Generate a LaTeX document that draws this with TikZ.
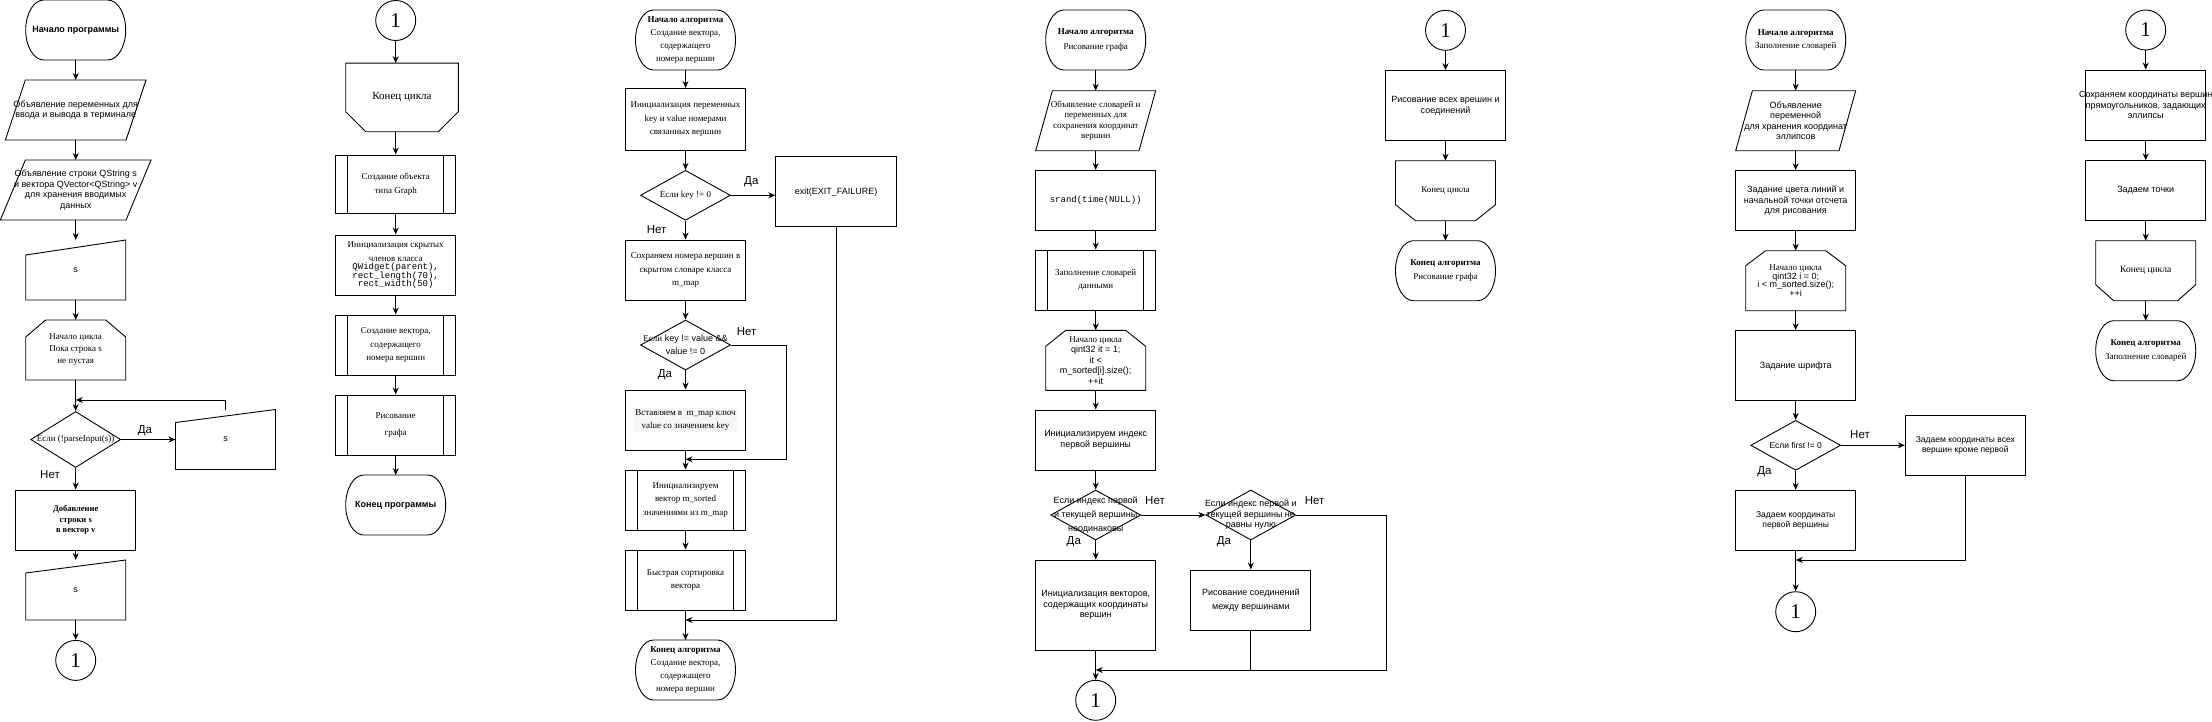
\documentclass[tikz,border=0pt]{standalone}
\usepackage{fontspec}
\setmainfont{Liberation Sans}
\newfontfamily\tnr{Liberation Serif}
\newfontfamily\cour{Liberation Mono}
\usetikzlibrary{shapes,arrows.meta}
% outline of a terminator round a node
\newcommand{\drawterm}[1]{\draw[line width=0.9pt] ([xshift=18pt]#1.north west) -- ([xshift=-18pt]#1.north east)
    arc[start angle=90, end angle=-90, x radius=18pt, y radius=30pt] -- ([xshift=18pt]#1.south west)
    arc[start angle=270, end angle=90, x radius=18pt, y radius=30pt] -- cycle;}

\begin{document}
\begin{tikzpicture}[x=1pt, y=-1pt,
    every node/.style={line width=0.9pt},
    ln/.style={line width=0.9pt},
    arr/.style={ln, -{Stealth[length=7pt,width=6pt]}},
    ss/.style={font=\fontsize{9}{10.5}\selectfont},
    rm/.style={font=\tnr\fontsize{9}{13.5}\selectfont},
    free/.style={align=center, minimum width=100pt, minimum height=60pt, inner sep=1pt, outer sep=0pt},
    term/.style={free},
    proc/.style={draw, align=center, minimum width=120pt, minimum height=60pt, inner sep=1pt},
    sub/.style={proc, path picture={
        \draw[ln] ([xshift=12pt]path picture bounding box.north west) -- ([xshift=12pt]path picture bounding box.south west)
                  ([xshift=-12pt]path picture bounding box.north east) -- ([xshift=-12pt]path picture bounding box.south east);}},
    cond/.style={draw, diamond, minimum width=90pt, minimum height=50pt, inner sep=0pt},
    conn/.style={draw, circle, minimum size=40pt, inner sep=0pt, font=\tnr\fontsize{21}{21}\selectfont},
    lab/.style={font=\fontsize{11.5}{12}\selectfont}]
    \useasboundingbox (0,0) rectangle (2212,721);

    % column 1: main program
    \node[term, font=\bfseries\fontsize{9}{10.5}\selectfont] (st1) at (75.7,30) {Начало программы};
    \drawterm{st1}
    \node[free, ss, minimum width=140.7pt] (d1) at (75.7,110) {Объявление переменных для\\ввода и вывода в терминале};
    \draw[ln] (d1.south west) -- ([xshift=20pt]d1.north west) -- (d1.north east) -- ([xshift=-20pt]d1.south east) -- cycle;
    \node[free, ss, minimum width=150.7pt] (d2) at (75.7,190) {Объявление строки QString s\\и вектора QVector<QString> v\\для хранения вводимых\\данных};
    \draw[ln] (d2.south west) -- ([xshift=25pt]d2.north west) -- (d2.north east) -- ([xshift=-25pt]d2.south east) -- cycle;
    \node[free, ss] (s1) at (75.7,270) {s};
    \draw[ln] (s1.south west) -- ([yshift=-15pt]s1.north west) -- (s1.north east) -- (s1.south east) -- cycle;
    \node[free, font=\tnr\fontsize{9}{12}\selectfont] (L1) at (75.7,350) {Начало цикла\\Пока строка s\\не пустая};
    \draw[ln] (L1.south west) -- ([yshift=-17pt]L1.north west) -- ([xshift=20pt]L1.north west) -- ([xshift=-20pt]L1.north east) -- ([yshift=-17pt]L1.north east) -- (L1.south east) -- cycle;
    \node[cond, minimum height=56pt] (c1) at (75.7,439.5) {};
    \node[rm] (c1t) at (c1) {Если (!parseInput(s))};
    \node[free, ss] (s2) at (225.5,439.5) {s};
    \draw[ln] (s2.south west) -- ([yshift=-13pt]s2.north west) -- (s2.north east) -- (s2.south east) -- cycle;
    \node[proc, font=\tnr\bfseries\fontsize{8.5}{10.5}\selectfont] (p1) at (75.7,520) {Добавление\\строки s\\в вектор v};
    \node[free, ss] (s3) at (75.7,590) {s};
    \draw[ln] (s3.south west) -- ([yshift=-13pt]s3.north west) -- (s3.north east) -- (s3.south east) -- cycle;
    \node[conn] (k1) at (75.7,660.4) {1};
    \node[lab] (y1) at (145,431) {Да};
    \node[lab] (n1) at (50,475) {Нет};
    \coordinate (j1) at (75.7,400);
    \draw[arr] (st1) -- (d1);
    \draw[arr] (d1) -- (d2);
    \draw[arr] (d2) -- (s1);
    \draw[arr] (s1) -- (L1);
    \draw[arr] (L1) -- (c1);
    \draw[arr] (c1) -- (s2);
    \draw[arr] (s2.north) |- (j1);
    \draw[arr] (c1) -- (p1);
    \draw[arr] (p1) -- (s3);
    \draw[arr] (s3) -- (k1);

    % column 2: end of main loop
    \node[conn] (k2) at (395.7,20.5) {1};
    \node[free, font=\tnr\fontsize{11}{12}\selectfont, minimum width=112.6pt, minimum height=68.7pt] (e1) at (402,97.4) {Конец цикла};
    \draw[ln] (e1.north west) -- (e1.north east) -- ([yshift=20pt]e1.south east) -- ([xshift=-20pt]e1.south east) -- ([xshift=20pt]e1.south west) -- ([yshift=20pt]e1.south west) -- cycle;
    \node[sub, rm, minimum height=58pt] (sp1) at (395.7,184) {Создание объекта\\типа Graph};
    \node[proc, font=\fontsize{9}{10}\selectfont] (p2) at (395.7,265) {\tnr Инициализация скрытых\\[4pt]\tnr членов класса\\[-1.5pt]\cour QWidget(parent),\\[-1.5pt]\cour rect\_length(70),\\[-1.5pt]\cour rect\_width(50)};
    \node[sub, rm] (sp2) at (395.7,345) {Создание вектора,\\содержащего\\номера вершин};
    \node[sub, rm] (sp3) at (395.7,425) {Рисование\\[4pt]графа};
    \node[term, font=\bfseries\fontsize{9}{10.5}\selectfont] (end2) at (395.7,505) {Конец программы};
    \drawterm{end2}
    \draw[arr] (k2) -- (k2 |- e1.north);
    \draw[arr] (e1.south -| sp1.north) -- (sp1.north);
    \draw[arr] (sp1) -- (p2);
    \draw[arr] (p2) -- (sp2);
    \draw[arr] (sp2) -- (sp3);
    \draw[arr] (sp3) -- (end2);

    % column 3: vector of vertices
    \node[term, font=\tnr\fontsize{9}{13.3}\selectfont] (st3) at (685.5,40) {\textbf{Начало алгоритма}\\Создание вектора,\\содержащего\\номера вершин};
    \drawterm{st3}
    \node[proc, rm, minimum height=62pt] (p3) at (685.5,119.5) {Инициализация переменных\\key и value номерами\\связанных вершин};
    \node[cond] (c3) at (685.5,195.3) {};
    \node[rm] (c3t) at (c3) {Если key != 0};
    \node[proc, ss, minimum width=121pt, minimum height=70pt] (x3) at (836.2,191.7) {exit(EXIT\_FAILURE)};
    \node[proc, rm] (p4) at (685.5,270) {Сохраняем номера вершин в\\скрытом словаре класса\\m\_map};
    \node[cond] (c4) at (685.5,345) {};
    \node[ss, align=center] (c4t) at (c4) {{\tnr Если} key != value \&\&\\[3pt]value != 0};
    \node[proc] (p5) at (685.5,420) {};
    \node[rm, align=center, fill=black!3, inner sep=1pt] (p5t) at (p5) {Вставляем в~ m\_map ключ\\value со значением key};
    \node[sub, rm] (sp4) at (685.5,500) {Инициализируем\\вектор m\_sorted\\значениями из m\_map};
    \node[sub, rm] (sp5) at (685.5,580) {Быстрая сортировка\\вектора};
    \node[term, font=\tnr\fontsize{9}{13.3}\selectfont] (end3) at (685.5,670) {\textbf{Конец алгоритма}\\Создание вектора,\\содержащего\\номера вершин};
    \drawterm{end3}
    \node[lab] (y3) at (751.3,182) {Да};
    \node[lab] (n3) at (656.7,229.5) {Нет};
    \node[lab] (n4) at (746.7,332) {Нет};
    \node[lab] (y4) at (665,375) {Да};
    \coordinate (j2) at (685.5,459.3);
    \coordinate (j3) at (685.5,620);
    \draw[arr] (st3) -- (p3);
    \draw[arr] (p3) -- (c3);
    \draw[arr] (c3.east) -- (c3.east -| x3.west);
    \draw[arr] (x3.south) |- (j3);
    \draw[arr] (c3) -- (p4);
    \draw[arr] (p4) -- (c4);
    \draw[arr] (c4.east) -- ++(55.7,0) |- (j2);
    \draw[arr] (c4) -- (p5);
    \draw[arr] (p5) -- (sp4);
    \draw[arr] (sp4) -- (sp5);
    \draw[arr] (sp5) -- (end3);

    % column 4: drawing the graph
    \node[term, font=\tnr\fontsize{9}{15}\selectfont] (st4) at (1095.7,40) {\textbf{Начало алгоритма}\\Рисование графа};
    \drawterm{st4}
    \node[free, minimum width=120pt, font=\tnr\fontsize{9}{10.5}\selectfont] (d4) at (1095.7,120.7) {Объявление словарей и\\переменных для\\сохранения координат\\вершин};
    \draw[ln] (d4.south west) -- ([xshift=16.7pt]d4.north west) -- (d4.north east) -- ([xshift=-16.7pt]d4.south east) -- cycle;
    \node[proc, font=\cour\fontsize{9}{10}\selectfont] (p6) at (1095.7,200.3) {srand(time(NULL))};
    \node[sub, rm] (sp6) at (1095.7,280) {Заполнение словарей\\данными};
    \node[free, ss] (L4) at (1095.7,360.3) {\tnr Начало цикла\\qint32 it = 1;\\it <\\m\_sorted[i].size();\\++it};
    \draw[ln] (L4.south west) -- ([yshift=-16pt]L4.north west) -- ([xshift=20pt]L4.north west) -- ([xshift=-20pt]L4.north east) -- ([yshift=-16pt]L4.north east) -- (L4.south east) -- cycle;
    \node[proc, ss] (p7) at (1095.7,440) {Инициализируем индекс\\первой вершины};
    \node[cond] (c5) at (1095.7,515) {};
    \node[align=center, font=\fontsize{9}{14}\selectfont] (c5t) at (c5) {Если индекс первой\\и текущей вершины\\неодинаковы};
    \node[cond] (c6) at (1250.8,515) {};
    \node[align=center, font=\fontsize{9}{10.5}\selectfont] (c6t) at (c6) {Если индекс первой и\\текущей вершины не\\равны нулю};
    \node[proc, ss, minimum height=90pt] (p8) at (1095.7,605) {Инициализация векторов,\\содержащих координаты\\вершин};
    \node[proc, font=\fontsize{9}{14.3}\selectfont] (p9) at (1250.8,600) {Рисование соединений\\между вершинами};
    \node[conn] (k4) at (1095.7,700.3) {1};
    \node[lab] (n5) at (1155,501) {Нет};
    \node[lab] (y5) at (1073.8,541.7) {Да};
    \node[lab] (n6) at (1314.7,501) {Нет};
    \node[lab] (y6) at (1224,541.7) {Да};
    \coordinate (j4) at (1095.7,670);
    \draw[arr] (st4) -- (d4);
    \draw[arr] (d4) -- (p6);
    \draw[arr] (p6) -- (sp6);
    \draw[arr] (sp6) -- (L4);
    \draw[arr] (L4) -- (p7);
    \draw[arr] (p7) -- (c5);
    \draw[arr] (c5) -- (c6);
    \draw[arr] (c6.east) -- ++(90,0) |- (j4);
    \draw[arr] (c5) -- (p8);
    \draw[arr] (c6) -- (p9);
    \draw[ln] (p9.south) -- (p9.south |- j4);
    \draw[arr] (p8) -- (k4);

    % column 5: end of drawing loop
    \node[conn] (k5) at (1445.5,30.3) {1};
    \node[proc, ss, minimum height=70pt] (p10) at (1445.5,105.7) {Рисование всех врешин и\\соединений};
    \node[free, rm] (e5) at (1445.5,190.7) {Конец цикла};
    \draw[ln] (e5.north west) -- (e5.north east) -- ([yshift=16pt]e5.south east) -- ([xshift=-20pt]e5.south east) -- ([xshift=20pt]e5.south west) -- ([yshift=16pt]e5.south west) -- cycle;
    \node[term, rm] (end5) at (1445.5,270.7) {\textbf{Конец алгоритма}\\Рисование графа};
    \drawterm{end5}
    \draw[arr] (k5) -- (p10);
    \draw[arr] (p10) -- (e5);
    \draw[arr] (e5) -- (end5);

    % column 6: filling the maps
    \node[term, rm] (st6) at (1795.7,40) {\textbf{Начало алгоритма}\\Заполнение словарей};
    \drawterm{st6}
    \node[free, ss, minimum width=120pt] (d6) at (1795.7,120.7) {Объявление\\переменной\\для хранения координат\\эллипсов};
    \draw[ln] (d6.south west) -- ([xshift=16.7pt]d6.north west) -- (d6.north east) -- ([xshift=-16.7pt]d6.south east) -- cycle;
    \node[proc, ss] (p11) at (1795.7,200.7) {Задание цвета линий и\\начальной точки отсчета\\для рисования};
    \node[free, font=\fontsize{9}{10.5}\selectfont] (L6) at (1795.7,280.7) {\tnr Начало цикла\\[-2pt]qint32 i = 0;\\[-2pt]i < m\_sorted.size();\\[-2pt]++i};
    \draw[ln] (L6.south west) -- ([yshift=-15pt]L6.north west) -- ([xshift=20pt]L6.north west) -- ([xshift=-20pt]L6.north east) -- ([yshift=-15pt]L6.north east) -- (L6.south east) -- cycle;
    \node[proc, ss, minimum height=70pt] (p12) at (1795.7,365.7) {Задание шрифта};
    \node[cond] (c7) at (1795.7,445.3) {};
    \node[font=\fontsize{8.5}{10}\selectfont] (c7t) at (c7) {Если first != 0};
    \node[proc, font=\fontsize{8.5}{10.5}\selectfont] (p13) at (1965.3,445.3) {Задаем координаты всех\\вершин кроме первой};
    \node[proc, font=\fontsize{8.5}{10.5}\selectfont] (p14) at (1795.7,520.3) {Задаем координаты\\первой вершины};
    \node[conn] (k6) at (1795.7,611.7) {1};
    \node[lab] (n7) at (1860,434.3) {Нет};
    \node[lab] (y7) at (1764.5,471.7) {Да};
    \coordinate (j5) at (1795.7,560);
    \draw[arr] (st6) -- (d6);
    \draw[arr] (d6) -- (p11);
    \draw[arr] (p11) -- (L6);
    \draw[arr] (L6) -- (p12);
    \draw[arr] (p12) -- (c7);
    \draw[arr] (c7) -- (p13);
    \draw[arr] (p13.south) |- (j5);
    \draw[arr] (c7) -- (p14);
    \draw[arr] (p14) -- (k6);

    % column 7: end of filling loop
    \node[conn] (k7) at (2145.7,30) {1};
    \node[proc, minimum height=70pt] (p15) at (2145.7,105) {};
    \node[ss, align=center] (p15t) at (p15) {Сохраняем координаты вершин\\прямоугольников, задающих\\эллипсы};
    \node[proc, ss] (p16) at (2145.7,190.7) {Задаем точки};
    \node[free, font=\tnr\fontsize{9.5}{11}\selectfont] (e7) at (2145.7,270.7) {Конец цикла};
    \draw[ln] (e7.north west) -- (e7.north east) -- ([yshift=16pt]e7.south east) -- ([xshift=-18pt]e7.south east) -- ([xshift=18pt]e7.south west) -- ([yshift=16pt]e7.south west) -- cycle;
    \node[term, rm] (end7) at (2145.7,350.7) {\textbf{Конец алгоритма}\\Заполнение словарей};
    \drawterm{end7}
    \draw[arr] (k7) -- (p15);
    \draw[arr] (p15) -- (p16);
    \draw[arr] (p16) -- (e7);
    \draw[arr] (e7) -- (end7);
\end{tikzpicture}
\end{document}
